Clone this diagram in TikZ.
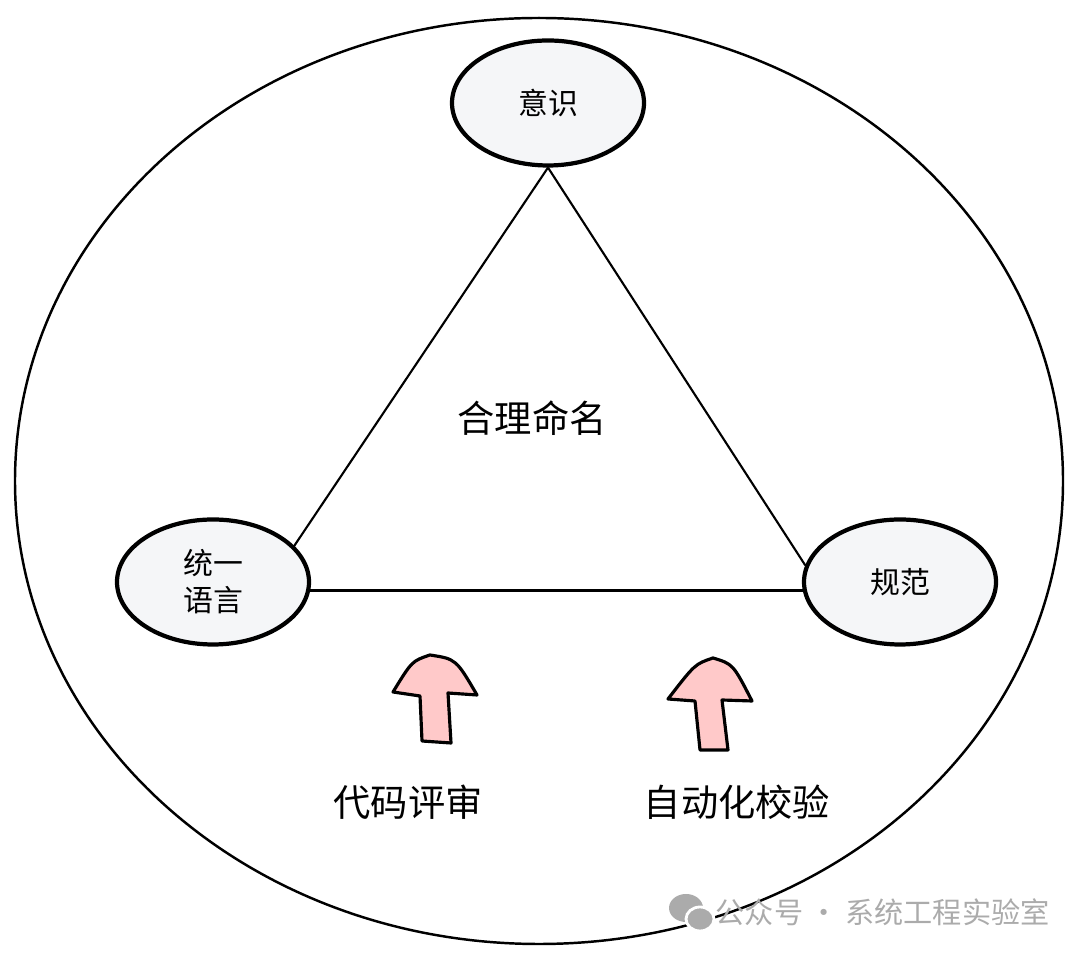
\documentclass[tikz,border=0pt]{standalone}
\usepackage{fontspec}
\setmainfont{Noto Sans CJK SC}
\usetikzlibrary{shapes.geometric}

\definecolor{nodefill}{HTML}{F5F6F8}
\definecolor{arrowpink}{HTML}{FFC9C9}
\definecolor{markgray}{HTML}{ABABAB}

\tikzset{
    idea/.style={ellipse, draw=black, line width=1.2pt, fill=nodefill, minimum width=1.92cm, minimum height=1.25cm, inner sep=0pt, align=center, font=\fontsize{8.5}{10.5}\selectfont},
    edge/.style={line width=0.6pt},
    uparrow/.style={draw=black, line width=0.9pt, fill=arrowpink, line join=round},
    caption/.style={font=\fontsize{10.6}{12}\selectfont}
}

\begin{document}
\begin{tikzpicture}
    \useasboundingbox (0,0) rectangle (10.8,9.59);
    %%% outer ring
    \draw[line width=0.7pt] (5.39,4.78) ellipse (5.24 and 4.63);
    %%% three corners
    \node[idea] (yishi) at (5.48,8.56) {意识};
    \node[idea] (tongyi) at (2.13,3.77) {统一\\语言};
    \node[idea] (guifan) at (9.00,3.77) {规范};
    \draw[edge] (yishi.south) -- (tongyi.24);
    \draw[edge] (yishi.south) -- (guifan.170);
    \draw[edge] (tongyi.-5) -- (guifan.185);
    \node[caption] (mingming) at (5.32,5.41) {合理命名};
    %%% arrows from below
    \begin{scope}[shift={(4.30,3.04)}]
        \draw[uparrow] (0,0) .. controls (-0.18,-0.06) .. (-0.37,-0.37) -- (-0.10,-0.41) -- (-0.08,-0.86) -- (0.21,-0.88) -- (0.18,-0.38) -- (0.47,-0.40) .. controls (0.26,-0.04) .. cycle;
    \end{scope}
    \begin{scope}[shift={(7.13,3.01)}]
        \draw[uparrow] (0,0) .. controls (-0.18,-0.06) .. (-0.45,-0.41) -- (-0.18,-0.43) -- (-0.13,-0.92) -- (0.15,-0.92) -- (0.09,-0.42) -- (0.39,-0.43) .. controls (0.20,-0.06) .. cycle;
    \end{scope}
    \node[caption] (pingshen) at (4.08,1.57) {代码评审};
    \node[caption] (jiaoyan) at (7.37,1.57) {自动化校验};
    %%% watermark
    \fill[markgray] (6.86,0.51) ellipse (0.17 and 0.14);
    \fill[markgray, draw=white, line width=0.8pt] (7.00,0.40) ellipse (0.14 and 0.12);
    \node[anchor=west, text=markgray, font=\fontsize{8.3}{10}\selectfont, inner sep=0pt] (mark) at (7.15,0.47) {公众号 · 系统工程实验室};
\end{tikzpicture}
\end{document}
